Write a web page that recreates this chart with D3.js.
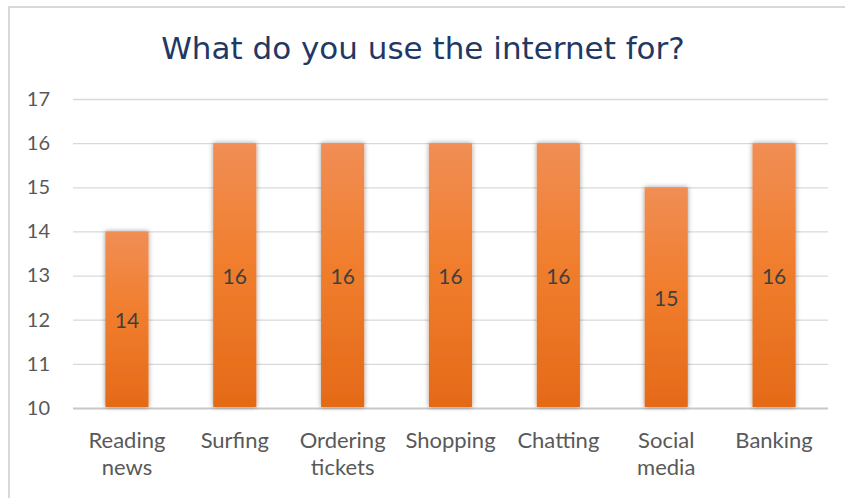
<!DOCTYPE html>
<html>
<head>
<meta charset="utf-8">
<script src="https://cdn.jsdelivr.net/npm/d3@7"></script>
<style>
  html, body { margin: 0; padding: 0; background: #fff; }
  svg { display: block; }
</style>
</head>
<body>
<div id="chart"></div>
<script>
// Survey answers: how many people use the internet for each activity
const categories = [["Reading", "news"], ["Surfing"], ["Ordering", "tickets"], ["Shopping"], ["Chatting"], ["Social", "media"], ["Banking"]];
const values = [14, 16, 16, 16, 16, 15, 16];
const yTicks = [10, 11, 12, 13, 14, 15, 16, 17];
const title = "What do you use the internet for?";

const W = 845, H = 498;
const margin = { left: 73, right: 17, top: 99, bottom: 90 };

const svg = d3.select("#chart").append("svg")
  .attr("width", W).attr("height", H);

const defs = svg.append("defs");
const grad = defs.append("linearGradient")
  .attr("id", "barFill").attr("x1", 0).attr("y1", 0).attr("x2", 0).attr("y2", 1);
grad.append("stop").attr("offset", "0%").attr("stop-color", "#F18E55");
grad.append("stop").attr("offset", "45%").attr("stop-color", "#F07E2E");
grad.append("stop").attr("offset", "100%").attr("stop-color", "#E56A18");

const shadow = defs.append("filter").attr("id", "barShadow")
  .attr("x", "-30%").attr("y", "-10%").attr("width", "160%").attr("height", "120%");
shadow.append("feDropShadow")
  .attr("dx", 0).attr("dy", 0).attr("stdDeviation", 2.4)
  .attr("flood-color", "#000").attr("flood-opacity", 0.4);

// Chart frame
svg.append("path")
  .attr("d", `M${9},${H} L${9},${7} L${W},${7}`)
  .attr("fill", "none").attr("stroke", "#d9d9d9").attr("stroke-width", 2);

const x = d3.scaleBand()
  .domain(d3.range(categories.length))
  .range([margin.left, W - margin.right])
  .paddingInner(0.6).paddingOuter(0.3);

const y = d3.scaleLinear()
  .domain([10, 17])
  .range([H - margin.bottom, margin.top]);

// Gridlines and value axis labels
const yAxis = svg.append("g")
  .attr("transform", `translate(${margin.left},0)`)
  .call(d3.axisLeft(y).tickValues(yTicks).tickSize(-(W - margin.left - margin.right)).tickPadding(23).tickFormat(d3.format("d")));
yAxis.select(".domain").remove();
yAxis.selectAll(".tick line")
  .attr("stroke", d => d === 10 ? "#c8c8c8" : "#d9d9d9")
  .attr("stroke-width", d => d === 10 ? 2 : 1.3);
yAxis.selectAll(".tick text")
  .attr("fill", "#595959")
  .style("font-family", "Lato, 'Open Sans', sans-serif")
  .style("font-size", "20px");

// Bars
svg.append("g").selectAll("rect")
  .data(values)
  .join("rect")
  .attr("x", (d, i) => x(i))
  .attr("width", x.bandwidth())
  .attr("y", d => y(d))
  .attr("height", d => y(10) - y(d) - 1)
  .attr("fill", "url(#barFill)")
  .attr("filter", "url(#barShadow)");

// Value labels in the middle of each bar
svg.append("g").selectAll("text")
  .data(values)
  .join("text")
  .attr("x", (d, i) => x(i) + x.bandwidth() / 2)
  .attr("y", d => (y(d) + y(10)) / 2 + 1)
  .attr("dy", "0.35em")
  .attr("text-anchor", "middle")
  .attr("fill", "#404040")
  .style("font-family", "Lato, 'Open Sans', sans-serif")
  .style("font-size", "21px")
  .text(d => d);

// Category labels
const cat = svg.append("g").selectAll("text")
  .data(categories)
  .join("text")
  .attr("x", (d, i) => x(i) + x.bandwidth() / 2)
  .attr("y", 448)
  .attr("text-anchor", "middle")
  .attr("fill", "#595959")
  .style("font-family", "Lato, 'Open Sans', sans-serif")
  .style("font-size", "22px");
cat.selectAll("tspan")
  .data(d => d)
  .join("tspan")
  .attr("x", function () { return d3.select(this.parentNode).attr("x"); })
  .attr("dy", (d, i) => i === 0 ? 0 : 27)
  .text(d => d);

// Title
svg.append("text")
  .attr("x", 423)
  .attr("y", 59)
  .attr("text-anchor", "middle")
  .attr("fill", "#1F3864")
  .style("font-family", "'DejaVu Sans', Verdana, sans-serif")
  .style("font-size", "31px")
  .text(title);
</script>
</body>
</html>
